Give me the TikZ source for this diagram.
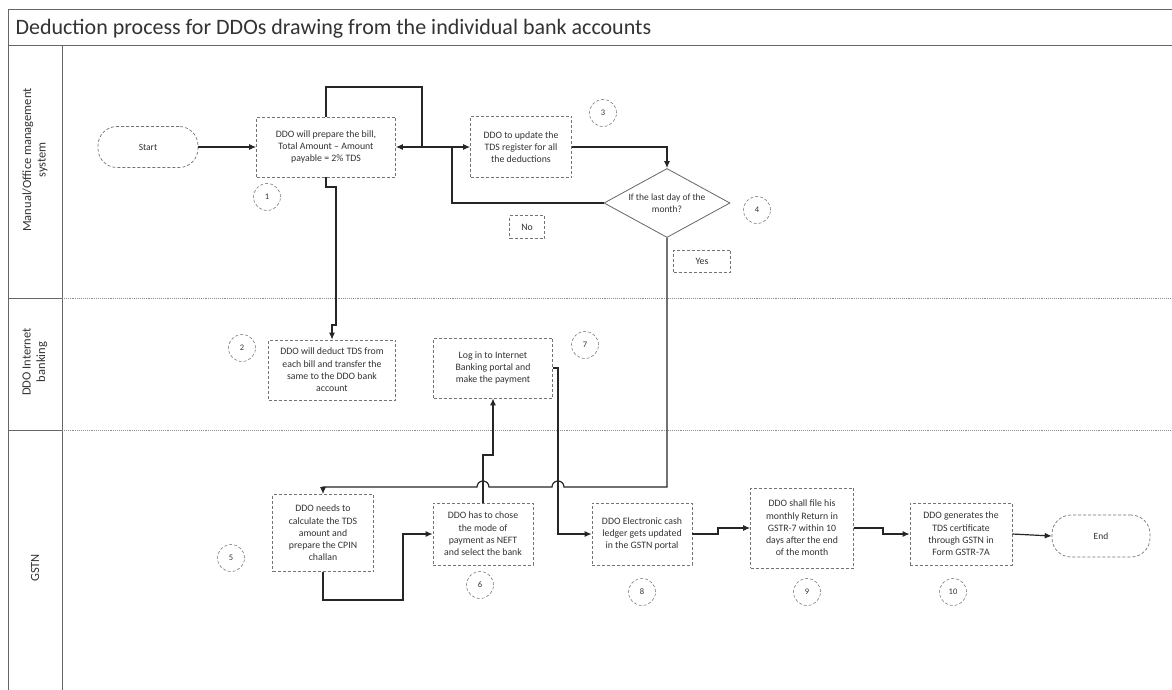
\documentclass[tikz,border=0pt]{standalone}
\usepackage{fontspec}
\setmainfont{Carlito}
\usetikzlibrary{shapes.geometric,arrows.meta}
\begin{document}
\begin{tikzpicture}[x=1pt,y=-1pt,
  box/.style={draw=black!55, densely dashed, line width=0.7pt, align=center,
    font=\fontsize{9.8}{12.3}\selectfont, inner sep=1pt, text=black!80},
  term/.style={draw=black!55, densely dashed, line width=0.7pt, rounded corners=19pt,
    minimum width=100pt, minimum height=41pt, font=\fontsize{9.5}{11}\selectfont, text=black!80},
  decide/.style={diamond, draw=black!60, line width=0.8pt, aspect=1.8, inner sep=0pt,
    align=center, font=\fontsize{9.5}{12}\selectfont, text=black!80,
    minimum width=126pt, minimum height=69pt},
  circ/.style={circle, draw=black!50, densely dashed, line width=0.6pt, minimum size=27pt,
    inner sep=0pt, font=\fontsize{8.5}{9}\selectfont, text=black!80},
  conn/.style={draw=black!85, line width=1.2pt, -{Latex[length=7pt,width=6pt]}},
  lane/.style={draw=black!45, densely dotted, line width=0.9pt},
  frame/.style={draw=black!60, line width=0.9pt},
  lanelbl/.style={rotate=90, align=center, font=\fontsize{12.5}{14.5}\selectfont, text=black!80}
]
\fill[white] (0,0) rectangle (1172,690);
\useasboundingbox (0,0) rectangle (1172,690);

% frame and lanes
\draw[frame] (8,9) -- (1172,9);
\draw[frame] (8,45) -- (1172,45);
\draw[frame] (8,9) -- (8,690);
\draw[frame] (62,45) -- (62,690);
\draw[frame] (8,298) -- (62,298);
\draw[frame] (8,430) -- (62,430);
\draw[lane] (62,298) -- (1172,298);
\draw[lane] (62,430) -- (1172,430);

\node[anchor=west, font=\fontsize{22}{26}\selectfont, text=black!80] (title) at (12,29)
  {Deduction process for DDOs drawing from the individual bank accounts};

\node[lanelbl] (l1) at (35,160) {Manual/Office management\\ system};
\node[lanelbl] (l2) at (35,362) {DDO Internet\\ banking};
\node[lanelbl] (l3) at (35,568) {GSTN};

% nodes
\node[term] (start) at (148,147) {Start};
\node[box, minimum width=139pt, minimum height=60pt] (prep) at (326,147)
  {DDO will prepare the bill,\\ Total Amount -- Amount\\ payable = 2\% TDS};
\node[circ] (c1) at (267,197) {1};
\node[box, minimum width=101pt, minimum height=61pt] (tds) at (521,147)
  {DDO to update the\\ TDS register for all\\ the deductions};
\node[circ] (c3) at (603,113) {3};
\node[decide] (dec) at (667,203) {If the last day of the\\ month?};
\node[circ] (c4) at (757,210) {4};
\node[box, minimum width=35pt, minimum height=23pt] (no) at (527,227) {No};
\node[box, minimum width=57pt, minimum height=22pt] (yes) at (702,261) {Yes};

\node[box, minimum width=127pt, minimum height=60pt] (ded) at (332,370)
  {DDO will deduct TDS from\\ each bill and transfer the\\ same to the DDO bank\\ account};
\node[circ] (c2) at (242,348) {2};
\node[box, minimum width=119pt, minimum height=60pt] (login) at (493,368)
  {Log in to Internet\\ Banking portal and\\ make the payment};
\node[circ] (c7) at (585,345) {7};

\node[box, minimum width=101pt, minimum height=77pt] (b5) at (323,533)
  {DDO needs to\\ calculate the TDS\\ amount and\\ prepare the CPIN\\ challan};
\node[circ] (c5) at (231,558) {5};
\node[box, minimum width=100pt, minimum height=62pt] (b6) at (483,534)
  {DDO has to chose\\ the mode of\\ payment as NEFT\\ and select the bank};
\node[circ] (c6) at (480,585) {6};
\node[box, minimum width=100pt, minimum height=62pt] (b8) at (642,534)
  {DDO Electronic cash\\ ledger gets updated\\ in the GSTN portal};
\node[circ] (c8) at (642,592) {8};
\node[box, minimum width=103pt, minimum height=80pt] (b9) at (802,528)
  {DDO shall file his\\ monthly Return in\\ GSTR-7 within 10\\ days after the end\\ of the month};
\node[circ] (c9) at (807,592) {9};
\node[box, minimum width=102pt, minimum height=62pt] (b10) at (961,534)
  {DDO generates the\\ TDS certificate\\ through GSTN in\\ Form GSTR-7A};
\node[circ] (c10) at (953,592) {10};
\node[term, minimum width=98pt, minimum height=42pt] (end) at (1101,536) {End};

% connectors
\draw[conn] (start) -- (prep);
\draw[conn] (prep.north) -- (326,87) -- (422,87) -- (422,147) -- (tds.west);
\draw[conn] (dec.west) -- (452,203) -- (452,147) -- (prep.east);
\draw[conn] (tds.east) -| (dec.north);
\draw[conn] (prep.south) -- (326,187) -- (336,187) -- (336,325) -- (332,325) -- (ded.north);
\draw[conn] (dec.south) -- (667,487) -- (564,487)
  arc[start angle=0, end angle=-180, radius=6] -- (489,487)
  arc[start angle=0, end angle=-180, radius=6] -- (323,487) -- (b5.north);
\draw[conn] (b5.south) -- (323,600) -- (403,600) -- (403,534) -- (b6.west);
\draw[conn] (b6.north) -- (483,455) -- (493,455) -- (login.south);
\draw[conn] (login.east) -- (558,368) -- (558,534) -- (b8.west);
\draw[conn] (b8.east) -- (718,534) -- (718,528) -- (b9.west);
\draw[conn] (b9.east) -- (883,528) -- (883,534) -- (b10.west);
\draw[conn] (b10.east) -- (end.west);
\end{tikzpicture}
\end{document}
